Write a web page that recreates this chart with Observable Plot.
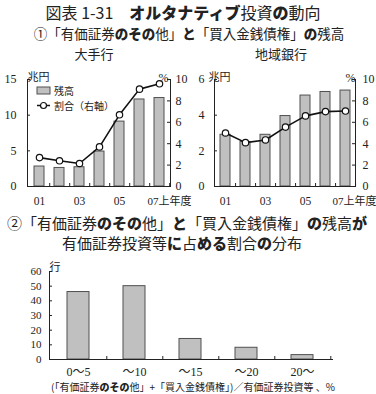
<!DOCTYPE html>
<html><head><meta charset="utf-8">
<script src="https://cdn.jsdelivr.net/npm/d3@7"></script>
<script src="https://cdn.jsdelivr.net/npm/@observablehq/plot@0.6"></script>
<style>
html,body{margin:0;padding:0;background:#fff;}
body{width:376px;height:394px;position:relative;overflow:hidden;font-family:"Noto Sans CJK JP",sans-serif;color:#222;}
.t{position:absolute;white-space:nowrap;transform:translate(-50%,-50%);line-height:1;}
.t b{font-weight:900;}
.box{position:absolute;}
svg{overflow:visible;}
</style></head>
<body>
<script>
// ---------- data ----------
const years = ["01","02","03","04","05","06","07"];
const xTickYears = ["01","03","05","07"];
const xTickLabels = ["01","03","05","07上年度"];
const majorBalance = [2.8, 2.6, 2.7, 4.9, 9.1, 12.2, 12.4];
const majorRatio = [2.7, 2.4, 2.15, 3.7, 6.7, 9.1, 9.6];
const regionalBalance = [2.9, 2.5, 2.9, 3.95, 5.1, 5.3, 5.38];
const regionalRatio = [5.0, 4.1, 4.35, 5.55, 6.6, 7.0, 7.05];
const majorTicks = [0, 5, 10, 15];
const regionalTicks = [0, 2, 4, 6];
const ratioTicks = [0, 2, 4, 6, 8, 10];
const bins = ["0～5","～10","～15","～20","20～"];
const bankCounts = [46, 50, 14, 8, 3];
const countTicks = [0, 10, 20, 30, 40, 50, 60];

const serif = "'Liberation Serif','Noto Sans CJK JP',serif";
const barFill = "#c0c0c0", barStroke = "#505050", ink = "#222";

function kana(s){ return s.replace(/([\u3040-\u30ff]+)/g, "<b>$1</b>"); }
function label(html, cx, cy, size, extra=""){
  const d = document.createElement("div");
  d.className = "t";
  d.style.cssText = `left:${cx}px;top:${cy}px;font-size:${size}px;${extra}`;
  d.innerHTML = html;
  document.body.appendChild(d);
}
function place(node, left, top){
  const d = document.createElement("div");
  d.className = "box";
  d.style.left = left + "px"; d.style.top = top + "px";
  d.appendChild(node);
  document.body.appendChild(d);
}

// ---------- titles ----------
label("図表 1-31　" + kana("オルタナティブ投資の動向"), 183, 12, 16);
label("①" + kana("「有価証券のその他」と「買入金銭債権」の残高"), 189, 34, 13.5);
label("大手行", 94, 53, 13);
label("地域銀行", 281, 53, 13);
label("②" + kana("「有価証券のその他」と「買入金銭債権」の残高が"), 187, 222, 15);
label(kana("有価証券投資等に占める割合の分布"), 182, 242, 15);
label("(「有価証券" + kana("のその") + "他」+「買入金銭債権」)／有価証券投資等 、%", 193, 387, 10);

// ---------- dual-axis charts ----------
function dualChart({balance, ratio, yMax, leftTicks, mL, mR, leftPad, rightPad, unitDx, pctDx, lastDx}){
  const k = yMax / 10;
  const rows = years.map((yr, i) => ({yr, b: balance[i], r: ratio[i] * k}));
  const W = 188, H = 146, mT = 17, mB = 22;
  const innerW = W - mL - mR, innerH = H - mT - mB;
  const step = innerW / years.length;
  const rightTicks = ratioTicks.map(t => t * k);
  const xl = xTickYears.map((yr, i) => ({yr, text: xTickLabels[i]}));
  return Plot.plot({
    width: W, height: H, marginTop: mT, marginBottom: mB, marginLeft: mL, marginRight: mR,
    style: {fontFamily: serif, fontSize: "12px", color: ink, background: "transparent", overflow: "visible"},
    x: {domain: years, paddingInner: 0.5, paddingOuter: 0.25, axis: null},
    y: {domain: [0, yMax], axis: null},
    marks: [
      Plot.barY(rows, {x: "yr", y: "b", fill: barFill, stroke: barStroke, strokeWidth: 1}),
      Plot.frame({anchor: "left", stroke: ink}),
      Plot.frame({anchor: "right", stroke: ink}),
      Plot.frame({anchor: "bottom", stroke: ink}),
      Plot.tickY(leftTicks, {y: d => d, insetRight: innerW - 3, stroke: ink}),
      Plot.tickY(rightTicks, {y: d => d, insetLeft: innerW - 3, stroke: ink}),
      Plot.tickX(years, {x: d => d, dx: step / 2, insetTop: innerH - 3, stroke: ink}),
      Plot.line(rows, {x: "yr", y: "r", stroke: "#111", strokeWidth: 1.6}),
      Plot.dot(rows, {x: "yr", y: "r", r: 3.2, fill: "white", stroke: "#111", strokeWidth: 1.2}),
      Plot.axisY(leftTicks, {anchor: "left", tickSize: 0, tickPadding: leftPad, label: null}),
      Plot.axisY(rightTicks, {anchor: "right", tickSize: 0, tickPadding: rightPad, label: null, tickFormat: d => String(Math.round(d / k))}),
      Plot.text(xl, {filter: d => d.text.length <= 2, x: "yr", text: "text", frameAnchor: "bottom", dy: 18, fontSize: 11.5}),
      Plot.text(xl, {filter: d => d.text.length > 2, x: "yr", text: "text", frameAnchor: "bottom", dy: 18, textAnchor: "start", dx: lastDx, fontSize: 11}),
      Plot.text(["兆円"], {text: d => d, frameAnchor: "top-left", dx: unitDx, dy: -6, textAnchor: "start", fontFamily: "'Noto Sans CJK JP',sans-serif", fontSize: 11}),
      Plot.text(["%"], {text: d => d, frameAnchor: "top-right", dx: pctDx, dy: -6, textAnchor: "end", fontSize: 12})
    ]
  });
}

place(dualChart({balance: majorBalance, ratio: majorRatio, yMax: 15, leftTicks: majorTicks,
  mL: 27, mR: 18, leftPad: 11, rightPad: 5, unitDx: 0, pctDx: -2, lastDx: -12}), 0, 62);
place(dualChart({balance: regionalBalance, ratio: regionalRatio, yMax: 6, leftTicks: regionalTicks,
  mL: 26, mR: 21, leftPad: 10, rightPad: 7, unitDx: -6, pctDx: 0, lastDx: -13}), 188, 62);

// legend (left chart)
const lg = document.createElement("div");
lg.style.cssText = "position:absolute;left:36px;top:83px;font-size:10px;line-height:15px;";
lg.innerHTML = `
<div style="display:flex;align-items:center;height:15px;">
  <svg width="15" height="9"><rect x="1" y="1" width="13" height="7" fill="${barFill}" stroke="${barStroke}"/></svg>
  <span style="margin-left:3px">残高</span></div>
<div style="display:flex;align-items:center;height:15px;">
  <svg width="15" height="9"><line x1="1" y1="4.5" x2="14" y2="4.5" stroke="#111" stroke-width="1.5"/><circle cx="7.5" cy="4.5" r="3" fill="white" stroke="#111" stroke-width="1.2"/></svg>
  <span style="margin-left:3px">割合（右軸）</span></div>`;
document.body.appendChild(lg);

// ---------- distribution chart ----------
(function(){
  const W = 376, H = 125, mT = 16, mB = 21, mL = 49, mR = 44;
  const innerW = W - mL - mR, innerH = H - mT - mB;
  const step = innerW / bins.length;
  const rows = bins.map((b, i) => ({bin: b, n: bankCounts[i]}));
  const chart = Plot.plot({
    width: W, height: H, marginTop: mT, marginBottom: mB, marginLeft: mL, marginRight: mR,
    style: {fontFamily: serif, fontSize: "11px", color: ink, background: "transparent", overflow: "visible"},
    x: {domain: bins, paddingInner: 0.6, paddingOuter: 0.3, axis: null},
    y: {domain: [0, 60], axis: null},
    marks: [
      Plot.barY(rows, {x: "bin", y: "n", fill: barFill, stroke: barStroke, strokeWidth: 1}),
      Plot.frame({anchor: "left", stroke: ink}),
      Plot.frame({anchor: "bottom", stroke: ink}),
      Plot.tickY(countTicks, {y: d => d, insetRight: innerW - 3, stroke: ink}),
      Plot.tickX(bins, {x: d => d, dx: step / 2, insetTop: innerH - 3, stroke: ink}),
      Plot.axisY(countTicks, {anchor: "left", tickSize: 0, tickPadding: 8, label: null}),
      Plot.axisX(bins, {anchor: "bottom", tickSize: 0, tickPadding: 8, label: null, fontSize: 12}),
      Plot.text(["行"], {text: d => d, frameAnchor: "top-left", dy: -8, textAnchor: "start", fontFamily: "'Noto Sans CJK JP',sans-serif", fontSize: 11})
    ]
  });
  place(chart, 0, 255);
})();
</script>
</body></html>
